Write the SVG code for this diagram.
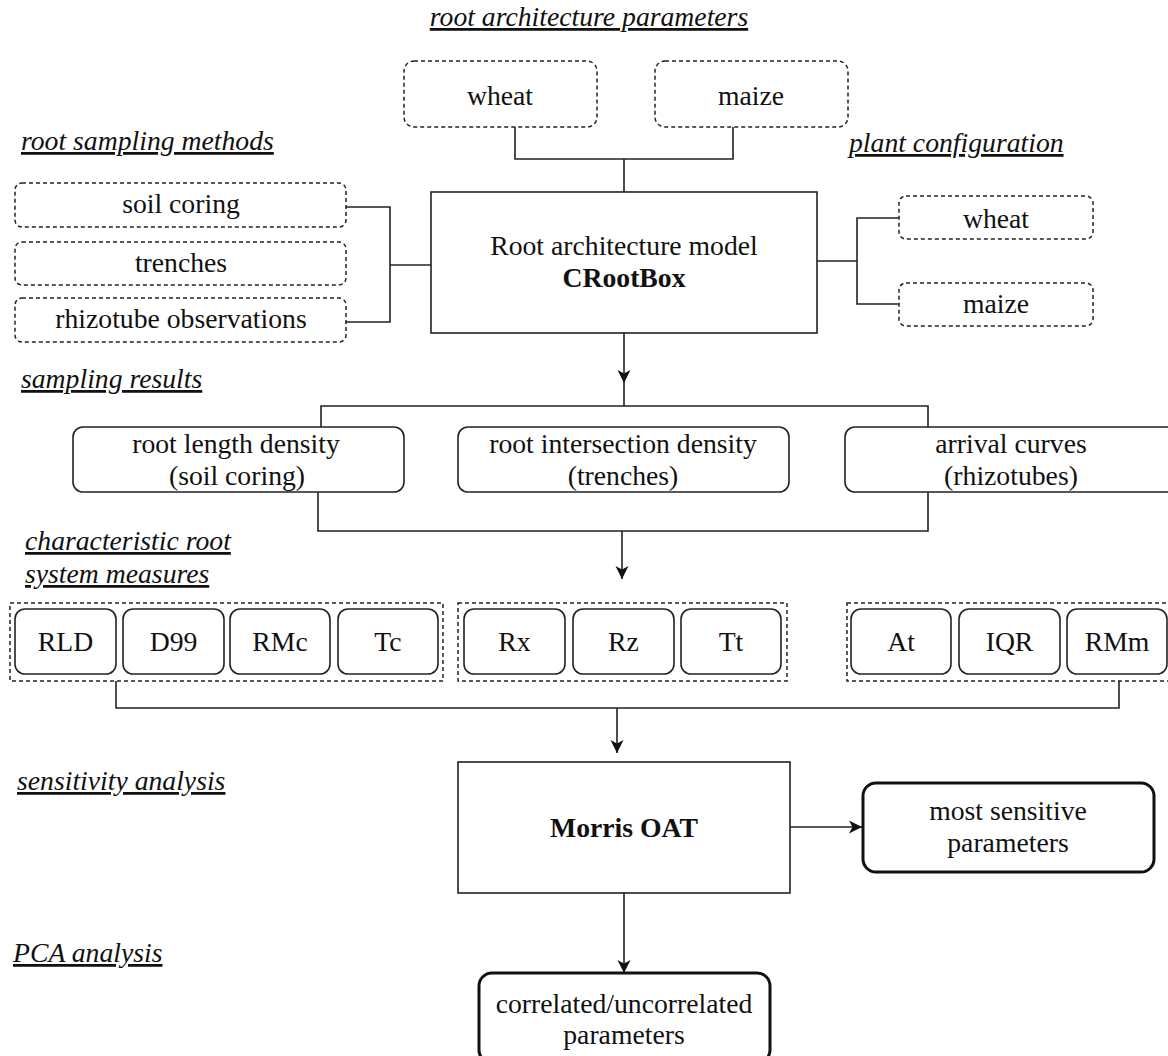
<svg xmlns="http://www.w3.org/2000/svg" width="1168" height="1056" viewBox="0 0 1168 1056">
<defs>
<style>
text{font-family:"Liberation Serif","Times New Roman",serif;font-size:27.7px;fill:#111}
.c{text-anchor:middle}
.b{font-weight:bold}
.t{font-style:italic;text-decoration:underline}
.box{fill:#fff;stroke:#222;stroke-width:1.6}
.dash{fill:#fff;stroke:#222;stroke-width:1.5;stroke-dasharray:4 3}
.dgrp{fill:none;stroke:#222;stroke-width:1.5;stroke-dasharray:4 3}
.thick{fill:#fff;stroke:#111;stroke-width:3}
.ln{fill:none;stroke:#222;stroke-width:1.6}
</style>
<marker id="arr" markerUnits="userSpaceOnUse" markerWidth="15" markerHeight="14" refX="13" refY="7" orient="auto">
<path d="M0,0.5 L13,7 L0,13.5 L3.5,7 z" fill="#111"/>
</marker>
</defs>
<rect width="1168" height="1056" fill="#fff"/>

<g id="titles">
<text class="t c" x="589" y="26">root architecture parameters</text>
<text class="t" x="21" y="150">root sampling methods</text>
<text class="t" x="849" y="152">plant configuration</text>
<text class="t" x="21" y="388">sampling results</text>
<text class="t" x="25" y="550">characteristic root </text>
<text class="t" x="25" y="583">system measures </text>
<text class="t" x="17" y="790">sensitivity analysis</text>
<text class="t" x="13" y="962">PCA analysis</text>
</g>

<g id="connectors">
<path class="ln" d="M515,127 V159 H733 V127"/>
<path class="ln" d="M624,159 V192"/>
<path class="ln" d="M346,207 H390 V322 H346"/>
<path class="ln" d="M390,265 H431"/>
<path class="ln" d="M817,261 H857"/>
<path class="ln" d="M899,218 H857 V304 H899"/>
<path class="ln" d="M624,333 V383" marker-end="url(#arr)"/>
<path class="ln" d="M624,383 V406"/>
<path class="ln" d="M321,427 V406 H928 V427"/>
<path class="ln" d="M318,492 V531 H928 V492"/>
<path class="ln" d="M622,531 V579" marker-end="url(#arr)"/>
<path class="ln" d="M116,681 V708 H1119 V681"/>
<path class="ln" d="M617,708 V753" marker-end="url(#arr)"/>
<path class="ln" d="M790,827 H862" marker-end="url(#arr)"/>
<path class="ln" d="M624,893 V973" marker-end="url(#arr)"/>
</g>

<g id="param-wheat"><rect class="dash" x="404" y="61" width="193" height="66" rx="10"/><text class="c" x="500" y="105">wheat</text></g>
<g id="param-maize"><rect class="dash" x="655" y="61" width="193" height="66" rx="10"/><text class="c" x="751" y="105">maize</text></g>

<g id="soil-coring"><rect class="dash" x="15" y="183" width="331" height="44" rx="7"/><text class="c" x="181" y="213">soil coring</text></g>
<g id="trenches"><rect class="dash" x="15" y="242" width="331" height="43" rx="7"/><text class="c" x="181" y="272">trenches</text></g>
<g id="rhizotube-obs"><rect class="dash" x="15" y="298" width="331" height="44" rx="7"/><text class="c" x="181" y="328">rhizotube observations</text></g>

<g id="crootbox"><rect class="box" x="431" y="192" width="386" height="141"/><text class="c" x="624" y="255">Root architecture model</text><text class="c b" x="624" y="287">CRootBox</text></g>

<g id="plant-wheat"><rect class="dash" x="899" y="196" width="194" height="43" rx="7"/><text class="c" x="996" y="228">wheat</text></g>
<g id="plant-maize"><rect class="dash" x="899" y="283" width="194" height="43" rx="7"/><text class="c" x="996" y="313">maize</text></g>

<g id="rld-result"><rect class="box" x="73" y="427" width="331" height="65" rx="10"/><text class="c" x="236" y="453">root length density</text><text class="c" x="237" y="485">(soil coring)</text></g>
<g id="rid-result"><rect class="box" x="458" y="427" width="331" height="65" rx="10"/><text class="c" x="623" y="453">root intersection density</text><text class="c" x="623" y="485">(trenches)</text></g>
<g id="arrival-result"><rect class="box" x="845" y="427" width="332" height="65" rx="10"/><text class="c" x="1011" y="453">arrival curves</text><text class="c" x="1011" y="485">(rhizotubes)</text></g>

<g id="group-coring">
<rect class="dgrp" x="10" y="603" width="433" height="78"/>
<g id="m-rld"><rect class="box" x="15" y="609" width="101" height="65" rx="10"/><text class="c" x="65.5" y="651">RLD</text></g>
<g id="m-d99"><rect class="box" x="123" y="609" width="101" height="65" rx="10"/><text class="c" x="173.5" y="651">D99</text></g>
<g id="m-rmc"><rect class="box" x="230" y="609" width="100" height="65" rx="10"/><text class="c" x="280" y="651">RMc</text></g>
<g id="m-tc"><rect class="box" x="338" y="609" width="100" height="65" rx="10"/><text class="c" x="388" y="651">Tc</text></g>
</g>
<g id="group-trenches">
<rect class="dgrp" x="458" y="603" width="329" height="78"/>
<g id="m-rx"><rect class="box" x="464" y="609" width="101" height="65" rx="10"/><text class="c" x="514.5" y="651">Rx</text></g>
<g id="m-rz"><rect class="box" x="573" y="609" width="101" height="65" rx="10"/><text class="c" x="623.5" y="651">Rz</text></g>
<g id="m-tt"><rect class="box" x="681" y="609" width="100" height="65" rx="10"/><text class="c" x="731" y="651">Tt</text></g>
</g>
<g id="group-rhizo">
<rect class="dgrp" x="847" y="603" width="326" height="78"/>
<g id="m-at"><rect class="box" x="851" y="609" width="100" height="65" rx="10"/><text class="c" x="901" y="651">At</text></g>
<g id="m-iqr"><rect class="box" x="959" y="609" width="101" height="65" rx="10"/><text class="c" x="1009.5" y="651">IQR</text></g>
<g id="m-rmm"><rect class="box" x="1067" y="609" width="100" height="65" rx="10"/><text class="c" x="1117" y="651">RMm</text></g>
</g>

<g id="morris"><rect class="box" x="458" y="762" width="332" height="131"/><text class="c b" x="624" y="837">Morris OAT</text></g>
<g id="most-sensitive"><rect class="thick" x="863" y="783" width="291" height="89" rx="13"/><text class="c" x="1008" y="820">most sensitive</text><text class="c" x="1008" y="852">parameters</text></g>
<g id="correlated"><rect class="thick" x="479" y="973" width="291" height="90" rx="13"/><text class="c" x="624" y="1013">correlated/uncorrelated</text><text class="c" x="624" y="1044">parameters</text></g>
</svg>
